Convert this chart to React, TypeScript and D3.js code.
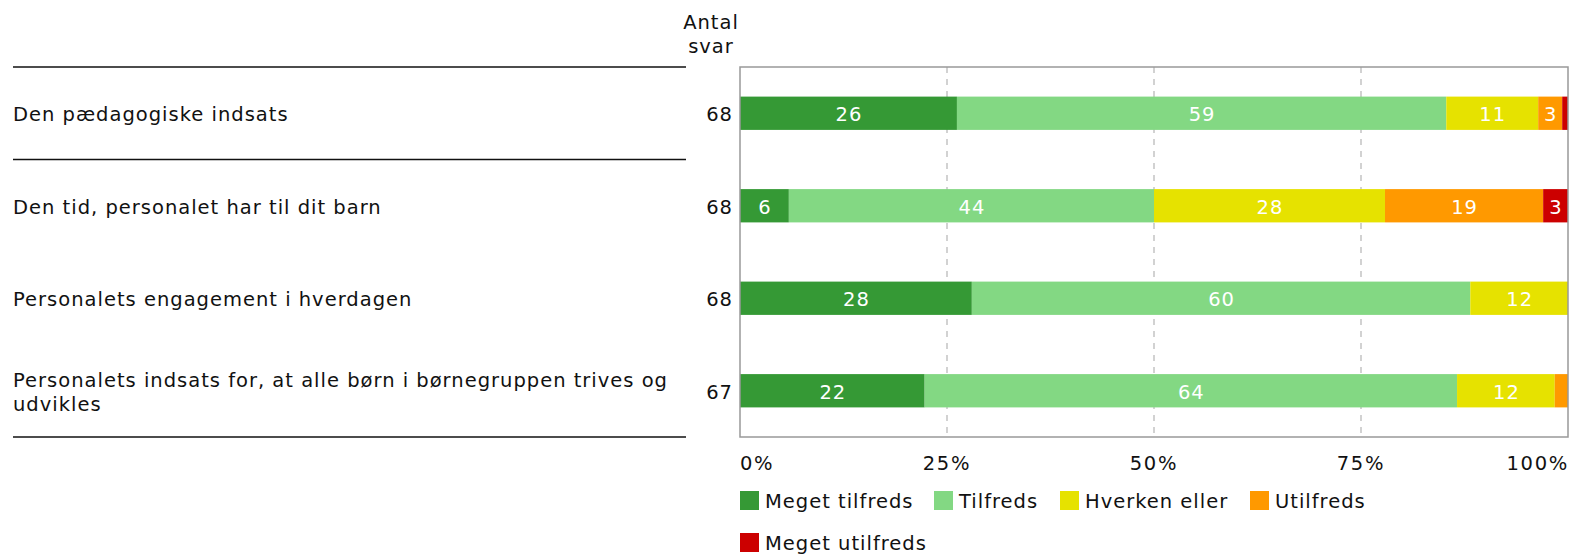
import React from "react";
import * as d3 from "d3";

const categories = [
  "Den pædagogiske indsats",
  "Den tid, personalet har til dit barn",
  "Personalets engagement i hverdagen",
  "Personalets indsats for, at alle børn i børnegruppen trives og udvikles",
];
const counts = [68, 68, 68, 67];
const seriesNames = ["Meget tilfreds", "Tilfreds", "Hverken eller", "Utilfreds", "Meget utilfreds"];
const seriesColors = ["#359935", "#83d883", "#e6e200", "#ff9900", "#cc0000"];
const megetTilfreds = [26.2, 5.9, 28.0, 22.3];
const tilfreds = [59.1, 44.1, 60.2, 64.3];
const hverkenEller = [11.1, 27.9, 11.8, 11.8];
const utilfreds = [2.9, 19.1, 0, 1.6];
const megetUtilfreds = [0.7, 3.0, 0, 0];
const tickValues = [0, 25, 50, 75, 100];

const FONT = "'DejaVu Sans', Verdana, sans-serif";
const LS = 1;

export default function App() {
  const W = 1571, H = 555;
  const left = 740, right = 1568, top = 67, bottom = 437;
  const x = d3.scaleLinear().domain([0, 100]).range([left, right]);
  const y = d3.scaleBand<number>().domain(d3.range(categories.length)).range([top, bottom]).paddingInner(0.64).paddingOuter(0.32);
  const rows = categories.map((c, i) => ({
    key: i,
    values: [megetTilfreds[i], tilfreds[i], hverkenEller[i], utilfreds[i], megetUtilfreds[i]],
  }));
  const stack = d3.stack<any>().keys(["0", "1", "2", "3", "4"]).value((d, k) => d.values[+k]);
  const stacked = stack(rows);

  const wrapLabel = (s: string): string[] => {
    if (s.length < 60) return [s];
    const words = s.split(" ");
    const lines: string[] = [];
    let cur = "";
    words.forEach((w) => {
      const t = cur ? cur + " " + w : w;
      if (t.length > 62) { lines.push(cur); cur = w; } else cur = t;
    });
    if (cur) lines.push(cur);
    return lines;
  };

  const legendRow1 = [0, 1, 2, 3];
  const legendX = [740, 934, 1060, 1250];
  const dy = 8;

  return (
    <svg width={W} height={H} style={{ position: "absolute", left: 0, top: 0 }} fontFamily={FONT} letterSpacing={LS}>
      {/* header */}
      <text x={711} y={29} fontSize={19.5} textAnchor="middle" fill="#111">Antal</text>
      <text x={711} y={53} fontSize={19.5} textAnchor="middle" fill="#111">svar</text>
      {/* left separators */}
      {[top, y(1)! - (y.step() - y.bandwidth()) / 2, bottom].map((yy, i) => (
        <line key={i} x1={13} x2={686} y1={yy} y2={yy} stroke="#111" strokeWidth={1.3} />
      ))}
      {/* category labels */}
      {categories.map((c, i) => {
        const lines = wrapLabel(c);
        const cy = y(i)! + y.bandwidth() / 2;
        const lh = 24;
        return (
          <text key={i} fontSize={19.5} fill="#111">
            {lines.map((l, j) => (
              <tspan key={j} x={13} y={cy + dy + (j - (lines.length - 1) / 2) * lh}>{l}</tspan>
            ))}
          </text>
        );
      })}
      {/* counts */}
      {counts.map((n, i) => (
        <text key={i} x={733} y={y(i)! + y.bandwidth() / 2 + dy} fontSize={19.5} textAnchor="end" fill="#111">{n}</text>
      ))}
      {/* grid */}
      {tickValues.slice(1, -1).map((t) => (
        <line key={t} x1={x(t)} x2={x(t)} y1={top} y2={bottom} stroke="#bbbbbb" strokeWidth={1.3} strokeDasharray="6,6" />
      ))}
      {/* bars */}
      {stacked.map((s, si) => (
        <g key={si}>
          {s.map((d, i) => {
            const w = x(d[1]) - x(d[0]);
            if (w <= 0) return null;
            const v = rows[i].values[si];
            return (
              <g key={i}>
                <rect x={x(d[0])} y={y(i)} width={w} height={y.bandwidth()} fill={seriesColors[si]} />
                {v >= 2.5 && (
                  <text x={(x(d[0]) + x(d[1])) / 2 + 0.5} y={y(i)! + y.bandwidth() / 2 + dy} fontSize={19.5} textAnchor="middle" fill="#fff">
                    {Math.round(v)}
                  </text>
                )}
              </g>
            );
          })}
        </g>
      ))}
      {/* frame */}
      <rect x={left} y={top} width={right - left} height={bottom - top} fill="none" stroke="#999" strokeWidth={1.5} />
      {/* x tick labels */}
      {tickValues.map((t, i) => (
        <text key={t} x={i === tickValues.length - 1 ? x(t) + 1 : x(t)} y={470} fontSize={19.5} fill="#111" letterSpacing={1.7}
          textAnchor={i === 0 ? "start" : i === tickValues.length - 1 ? "end" : "middle"}>{t}%</text>
      ))}
      {/* legend */}
      {legendRow1.map((si, k) => (
        <g key={si}>
          <rect x={legendX[k]} y={491} width={19} height={19} fill={seriesColors[si]} />
          <text x={legendX[k] + 25} y={508} fontSize={19.5} fill="#111">{seriesNames[si]}</text>
        </g>
      ))}
      <g>
        <rect x={740} y={533} width={19} height={19} fill={seriesColors[4]} />
        <text x={765} y={550} fontSize={19.5} fill="#111">{seriesNames[4]}</text>
      </g>
    </svg>
  );
}
